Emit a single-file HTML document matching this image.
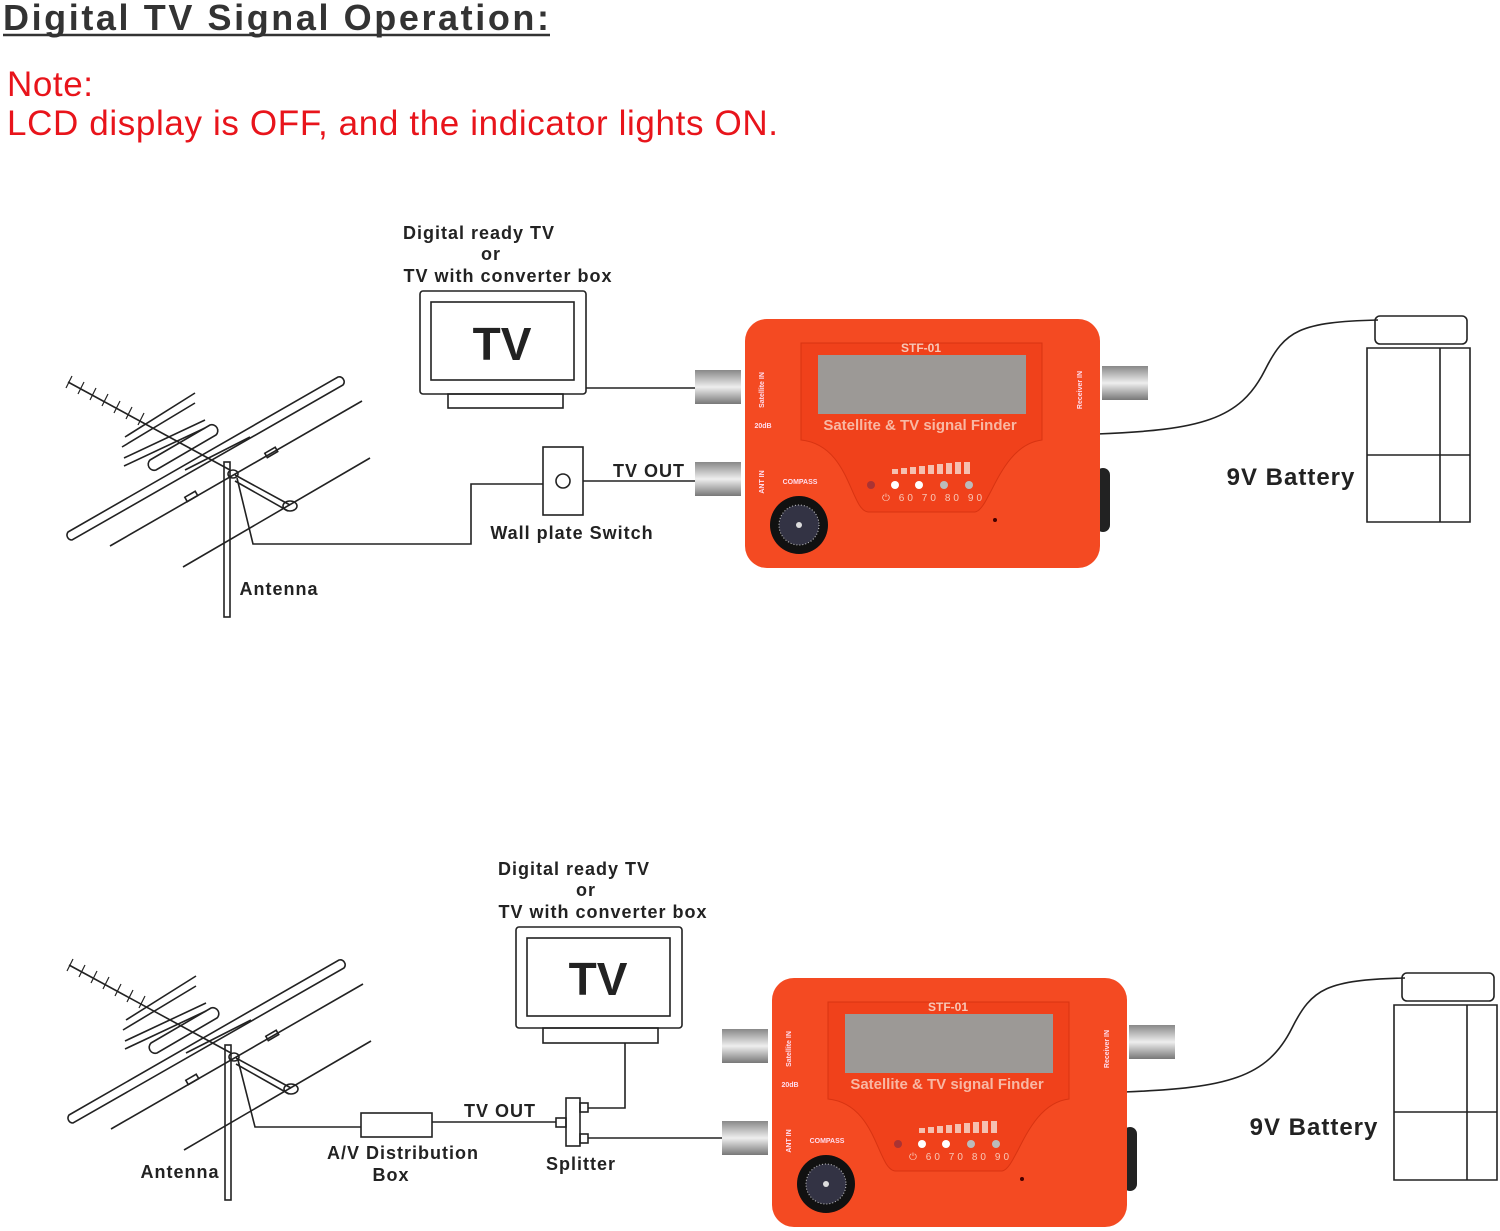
<!DOCTYPE html>
<html><head><meta charset="utf-8"><style>
html,body{margin:0;padding:0;background:#fff;}
svg{display:block;}
.l{font-family:"Liberation Sans",Arial,sans-serif;font-weight:bold;fill:#222;letter-spacing:1px}
</style></head><body>
<svg width="1500" height="1231" viewBox="0 0 1500 1231" xmlns="http://www.w3.org/2000/svg">
<defs>
<linearGradient id="met" x1="0" y1="0" x2="0" y2="1"><stop offset="0" stop-color="#888"/><stop offset=".5" stop-color="#eee"/><stop offset="1" stop-color="#777"/></linearGradient>
</defs>
<text x="3" y="30" font-family="Liberation Sans,Arial,sans-serif" font-size="36" font-weight="bold" fill="#333" textLength="546" lengthAdjust="spacing">Digital TV Signal Operation:</text>
<line x1="3" y1="35" x2="550" y2="35" stroke="#333" stroke-width="2.5"/>
<text x="7" y="96" font-family="Liberation Sans,Arial,sans-serif" font-size="35" fill="#e8141b" textLength="86" lengthAdjust="spacing">Note:</text>
<text x="7" y="135" font-family="Liberation Sans,Arial,sans-serif" font-size="35" fill="#e8141b" textLength="771" lengthAdjust="spacing">LCD display is OFF, and the indicator lights ON.</text>

<!-- ================= TOP ================= -->
<g fill="none" stroke="#222" stroke-width="1.6">
 <g>
  <line x1="68" y1="382" x2="230" y2="470"/>
  <g stroke-width="1.2">
   <line x1="72" y1="376" x2="66" y2="388"/><line x1="84" y1="382" x2="78" y2="394"/><line x1="96" y1="388" x2="90" y2="400"/><line x1="108" y1="394" x2="102" y2="406"/><line x1="120" y1="401" x2="114" y2="413"/><line x1="132" y1="407" x2="126" y2="419"/><line x1="144" y1="413" x2="138" y2="425"/>
  </g>
  <line x1="125" y1="437" x2="195" y2="393"/><line x1="122" y1="447" x2="195" y2="403"/>
  <line x1="124" y1="458" x2="205" y2="420"/><line x1="124" y1="466" x2="205" y2="428"/>
  <path d="M68 532 L338 377 a5 5 0 0 1 5 8 L72 540 a5 5 0 0 1 -4 -8z"/>
  <path d="M150 460 L210 425 a6 6 0 0 1 6 10 L156 470 a6 6 0 0 1 -6 -10z"/>
  <line x1="110" y1="546" x2="362" y2="401"/>
  <line x1="183" y1="567" x2="370" y2="458"/>
  <line x1="185" y1="470" x2="250" y2="437"/>
  <rect x="224" y="462" width="6" height="155"/>
  <line x1="235" y1="475" x2="290" y2="505"/><line x1="235" y1="481" x2="288" y2="511"/>
  <ellipse cx="290" cy="506" rx="7" ry="5"/>
  <ellipse cx="233" cy="474" rx="5" ry="4"/>
  <rect x="185" y="494" width="12" height="5" transform="rotate(-30 191 496)"/>
  <rect x="265" y="450" width="12" height="5" transform="rotate(-30 271 452)"/>
 </g>
 <polyline points="237,478 253,544 471,544 471,484 543,484"/>
 <rect x="420" y="291" width="166" height="103" rx="3"/>
 <rect x="431" y="302" width="143" height="78"/>
 <rect x="448" y="394" width="115" height="14"/>
 <line x1="586" y1="388" x2="698" y2="388"/>
 <rect x="543" y="447" width="40" height="68"/>
 <circle cx="563" cy="481" r="7"/>
 <line x1="583" y1="481" x2="698" y2="481"/>
 <path d="M1097 434 C1200 430 1240 420 1265 370 C1285 330 1300 322 1378 320"/>
 <rect x="1375" y="316" width="92" height="28" rx="5"/>
 <path d="M1370 348 L1470 348 L1470 522 L1367 522 L1367 348z"/>
 <line x1="1367" y1="455" x2="1470" y2="455"/>
 <line x1="1440" y1="348" x2="1440" y2="522"/>
</g>
<text class="l" x="479" y="239" font-size="18" text-anchor="middle">Digital ready TV</text>
<text class="l" x="491" y="260" font-size="18" text-anchor="middle">or</text>
<text class="l" x="508" y="282" font-size="18" text-anchor="middle">TV with converter box</text>
<text x="502" y="360" font-family="Liberation Sans,Arial,sans-serif" font-size="46" font-weight="bold" fill="#222" text-anchor="middle">TV</text>
<text class="l" x="649" y="477" font-size="18" text-anchor="middle">TV OUT</text>
<text class="l" x="572" y="539" font-size="18" text-anchor="middle">Wall plate Switch</text>
<text class="l" x="279" y="595" font-size="18" text-anchor="middle">Antenna</text>
<text class="l" x="1291" y="485" font-size="24" text-anchor="middle">9V Battery</text>

<g>
 <rect x="695" y="370" width="46" height="34" fill="url(#met)"/>
 <rect x="695" y="462" width="46" height="34" fill="url(#met)"/>
 <rect x="1102" y="366" width="46" height="34" fill="url(#met)"/>
 <rect x="1096" y="468" width="14" height="64" rx="7" fill="#222"/>
 <rect x="745" y="319" width="355" height="249" rx="22" fill="#f44a22"/>
 <path d="M801 343 H1042 V440 C1000 445 990 510 975 512 H868 C850 510 850 445 801 440 Z" fill="#f0411b" stroke="#d83412"/>
 <rect x="818" y="355" width="208" height="59" fill="#9c9996"/>
 <text x="921" y="352" font-family="Liberation Sans,Arial,sans-serif" font-size="12" font-weight="bold" fill="#f8c8b8" text-anchor="middle">STF-01</text>
 <text x="920" y="430" font-family="Liberation Sans,Arial,sans-serif" font-size="15" font-weight="bold" fill="#f8b8a4" text-anchor="middle">Satellite &amp; TV signal Finder</text>
 <text x="764" y="390" font-family="Liberation Sans,Arial,sans-serif" font-size="7" font-weight="bold" fill="#fde" text-anchor="middle" transform="rotate(-90 764 390)">Satellite IN</text>
 <text x="764" y="482" font-family="Liberation Sans,Arial,sans-serif" font-size="7" font-weight="bold" fill="#fde" text-anchor="middle" transform="rotate(-90 764 482)">ANT IN</text>
 <text x="1082" y="390" font-family="Liberation Sans,Arial,sans-serif" font-size="7" font-weight="bold" fill="#fde" text-anchor="middle" transform="rotate(-90 1082 390)">Receiver IN</text>
 <g fill="#f5c0b0"><rect x="892" y="469" width="6" height="5"/><rect x="901" y="468" width="6" height="6"/><rect x="910" y="467" width="6" height="7"/><rect x="919" y="466" width="6" height="8"/><rect x="928" y="465" width="6" height="9"/><rect x="937" y="464" width="6" height="10"/><rect x="946" y="463" width="6" height="11"/><rect x="955" y="462" width="6" height="12"/><rect x="964" y="462" width="6" height="12"/></g>
 <circle cx="871" cy="485" r="4" fill="#a33"/><circle cx="895" cy="485" r="4" fill="#fff"/><circle cx="919" cy="485" r="4" fill="#fff"/><circle cx="944" cy="485" r="4" fill="#bbb"/><circle cx="969" cy="485" r="4" fill="#bbb"/>
 <text x="932" y="501" font-family="Liberation Sans,Arial,sans-serif" font-size="10" fill="#f8c8b8" text-anchor="middle" textLength="100" lengthAdjust="spacing">⏻ 60 70 80 90</text>
 <text x="800" y="484" font-family="Liberation Sans,Arial,sans-serif" font-size="7" font-weight="bold" fill="#fde" text-anchor="middle">COMPASS</text>
 <text x="763" y="428" font-family="Liberation Sans,Arial,sans-serif" font-size="7" font-weight="bold" fill="#fde" text-anchor="middle">20dB</text>
 <circle cx="799" cy="525" r="29" fill="#111"/>
 <circle cx="799" cy="525" r="20" fill="#334" stroke="#ccc" stroke-dasharray="1 2"/>
 <circle cx="799" cy="525" r="3" fill="#ddd"/>
 <circle cx="995" cy="520" r="2" fill="#400"/>
</g>

<!-- ================= BOTTOM ================= -->
<g fill="none" stroke="#222" stroke-width="1.6">
 <g transform="translate(1 583)">
  <line x1="68" y1="382" x2="230" y2="470"/>
  <g stroke-width="1.2">
   <line x1="72" y1="376" x2="66" y2="388"/><line x1="84" y1="382" x2="78" y2="394"/><line x1="96" y1="388" x2="90" y2="400"/><line x1="108" y1="394" x2="102" y2="406"/><line x1="120" y1="401" x2="114" y2="413"/><line x1="132" y1="407" x2="126" y2="419"/><line x1="144" y1="413" x2="138" y2="425"/>
  </g>
  <line x1="125" y1="437" x2="195" y2="393"/><line x1="122" y1="447" x2="195" y2="403"/>
  <line x1="124" y1="458" x2="205" y2="420"/><line x1="124" y1="466" x2="205" y2="428"/>
  <path d="M68 532 L338 377 a5 5 0 0 1 5 8 L72 540 a5 5 0 0 1 -4 -8z"/>
  <path d="M150 460 L210 425 a6 6 0 0 1 6 10 L156 470 a6 6 0 0 1 -6 -10z"/>
  <line x1="110" y1="546" x2="362" y2="401"/>
  <line x1="183" y1="567" x2="370" y2="458"/>
  <line x1="185" y1="470" x2="250" y2="437"/>
  <rect x="224" y="462" width="6" height="155"/>
  <line x1="235" y1="475" x2="290" y2="505"/><line x1="235" y1="481" x2="288" y2="511"/>
  <ellipse cx="290" cy="506" rx="7" ry="5"/>
  <ellipse cx="233" cy="474" rx="5" ry="4"/>
  <rect x="185" y="494" width="12" height="5" transform="rotate(-30 191 496)"/>
  <rect x="265" y="450" width="12" height="5" transform="rotate(-30 271 452)"/>
 </g>
 <polyline points="238,1060 255,1127 361,1127"/>
 <rect x="361" y="1113" width="71" height="24"/>
 <line x1="432" y1="1122" x2="556" y2="1122"/>
 <rect x="556" y="1118" width="10" height="9"/>
 <rect x="566" y="1098" width="14" height="48"/>
 <rect x="580" y="1103" width="8" height="9"/>
 <rect x="580" y="1134" width="8" height="9"/>
 <polyline points="588,1108 625,1108 625,1043"/>
 <line x1="588" y1="1138" x2="725" y2="1138"/>
 <rect x="516" y="927" width="166" height="101" rx="3"/>
 <rect x="527" y="938" width="143" height="78"/>
 <rect x="543" y="1028" width="115" height="15"/>
 <path d="M1124 1092 C1227 1088 1267 1078 1292 1028 C1312 988 1327 980 1405 978"/>
 <rect x="1402" y="973" width="92" height="28" rx="5"/>
 <path d="M1397 1005 L1497 1005 L1497 1180 L1394 1180 L1394 1005z"/>
 <line x1="1394" y1="1112" x2="1497" y2="1112"/>
 <line x1="1467" y1="1005" x2="1467" y2="1180"/>
</g>
<text class="l" x="574" y="875" font-size="18" text-anchor="middle">Digital ready TV</text>
<text class="l" x="586" y="896" font-size="18" text-anchor="middle">or</text>
<text class="l" x="603" y="918" font-size="18" text-anchor="middle">TV with converter box</text>
<text x="598" y="995" font-family="Liberation Sans,Arial,sans-serif" font-size="46" font-weight="bold" fill="#222" text-anchor="middle">TV</text>
<text class="l" x="500" y="1117" font-size="18" text-anchor="middle">TV OUT</text>
<text class="l" x="403" y="1159" font-size="18" text-anchor="middle">A/V Distribution</text>
<text class="l" x="391" y="1181" font-size="18" text-anchor="middle">Box</text>
<text class="l" x="581" y="1170" font-size="18" text-anchor="middle">Splitter</text>
<text class="l" x="180" y="1178" font-size="18" text-anchor="middle">Antenna</text>
<text class="l" x="1314" y="1135" font-size="24" text-anchor="middle">9V Battery</text>

<g transform="translate(27 659)">
 <rect x="695" y="370" width="46" height="34" fill="url(#met)"/>
 <rect x="695" y="462" width="46" height="34" fill="url(#met)"/>
 <rect x="1102" y="366" width="46" height="34" fill="url(#met)"/>
 <rect x="1096" y="468" width="14" height="64" rx="7" fill="#222"/>
 <rect x="745" y="319" width="355" height="249" rx="22" fill="#f44a22"/>
 <path d="M801 343 H1042 V440 C1000 445 990 510 975 512 H868 C850 510 850 445 801 440 Z" fill="#f0411b" stroke="#d83412"/>
 <rect x="818" y="355" width="208" height="59" fill="#9c9996"/>
 <text x="921" y="352" font-family="Liberation Sans,Arial,sans-serif" font-size="12" font-weight="bold" fill="#f8c8b8" text-anchor="middle">STF-01</text>
 <text x="920" y="430" font-family="Liberation Sans,Arial,sans-serif" font-size="15" font-weight="bold" fill="#f8b8a4" text-anchor="middle">Satellite &amp; TV signal Finder</text>
 <text x="764" y="390" font-family="Liberation Sans,Arial,sans-serif" font-size="7" font-weight="bold" fill="#fde" text-anchor="middle" transform="rotate(-90 764 390)">Satellite IN</text>
 <text x="764" y="482" font-family="Liberation Sans,Arial,sans-serif" font-size="7" font-weight="bold" fill="#fde" text-anchor="middle" transform="rotate(-90 764 482)">ANT IN</text>
 <text x="1082" y="390" font-family="Liberation Sans,Arial,sans-serif" font-size="7" font-weight="bold" fill="#fde" text-anchor="middle" transform="rotate(-90 1082 390)">Receiver IN</text>
 <g fill="#f5c0b0"><rect x="892" y="469" width="6" height="5"/><rect x="901" y="468" width="6" height="6"/><rect x="910" y="467" width="6" height="7"/><rect x="919" y="466" width="6" height="8"/><rect x="928" y="465" width="6" height="9"/><rect x="937" y="464" width="6" height="10"/><rect x="946" y="463" width="6" height="11"/><rect x="955" y="462" width="6" height="12"/><rect x="964" y="462" width="6" height="12"/></g>
 <circle cx="871" cy="485" r="4" fill="#a33"/><circle cx="895" cy="485" r="4" fill="#fff"/><circle cx="919" cy="485" r="4" fill="#fff"/><circle cx="944" cy="485" r="4" fill="#bbb"/><circle cx="969" cy="485" r="4" fill="#bbb"/>
 <text x="932" y="501" font-family="Liberation Sans,Arial,sans-serif" font-size="10" fill="#f8c8b8" text-anchor="middle" textLength="100" lengthAdjust="spacing">⏻ 60 70 80 90</text>
 <text x="800" y="484" font-family="Liberation Sans,Arial,sans-serif" font-size="7" font-weight="bold" fill="#fde" text-anchor="middle">COMPASS</text>
 <text x="763" y="428" font-family="Liberation Sans,Arial,sans-serif" font-size="7" font-weight="bold" fill="#fde" text-anchor="middle">20dB</text>
 <circle cx="799" cy="525" r="29" fill="#111"/>
 <circle cx="799" cy="525" r="20" fill="#334" stroke="#ccc" stroke-dasharray="1 2"/>
 <circle cx="799" cy="525" r="3" fill="#ddd"/>
 <circle cx="995" cy="520" r="2" fill="#400"/>
</g>
</svg>
</body></html>
